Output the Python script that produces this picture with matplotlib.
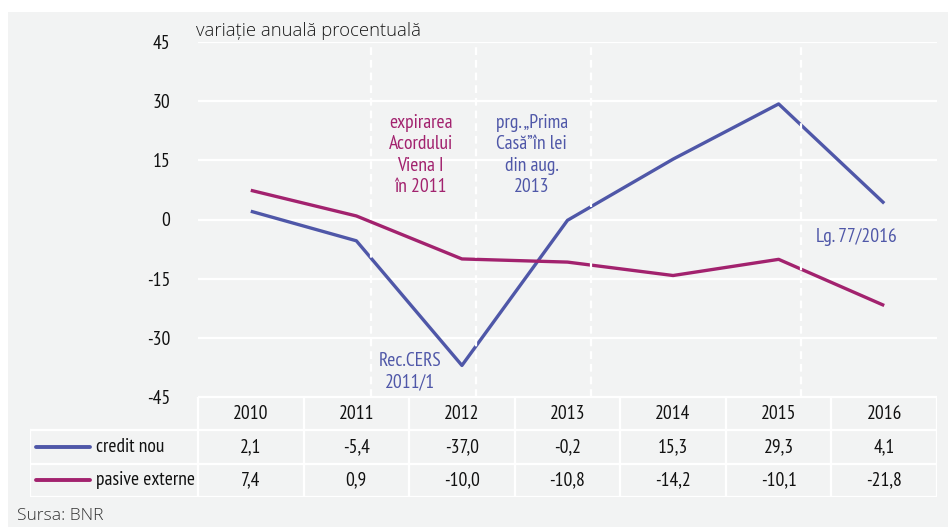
import matplotlib
matplotlib.use("Agg")
import matplotlib.pyplot as plt
from matplotlib import font_manager as fm
from matplotlib.patches import Rectangle

# ---- data ----
years = ["2010", "2011", "2012", "2013", "2014", "2015", "2016"]
credit_nou = [2.1, -5.4, -37.0, -0.2, 15.3, 29.3, 4.1]
pasive_externe = [7.4, 0.9, -10.0, -10.8, -14.2, -10.1, -21.8]
series_names = ["credit nou", "pasive externe"]
yticks = [45, 30, 15, 0, -15, -30, -45]
event_x = [1.14, 2.13, 3.22, 5.21]
ylabel_text = "variație anuală procentuală"
source_text = "Sursa: BNR"

BLUE = "#4f57a8"
MAG = "#a2226e"
BG = "#f2f3f3"

names = {f.name for f in fm.fontManager.ttflist}
NARROW = None
for cand in ["PT Sans Narrow", "Liberation Sans Narrow", "Roboto Condensed", "Archivo Narrow"]:
    if cand in names:
        NARROW = dict(family=cand)
        break
if NARROW is None:
    NARROW = dict(family="DejaVu Sans", stretch="condensed")
LIGHT = dict(family="Open Sans", weight="light") if "Open Sans" in names else dict(family="DejaVu Sans")

FS = 14
W, H = 948, 527
fig = plt.figure(figsize=(W / 100, H / 100), dpi=100, facecolor="white")
fig.patches.append(Rectangle((8 / W, 0), 1 - 8 / W, 1 - 12 / H, transform=fig.transFigure,
                             facecolor=BG, edgecolor="none", zorder=-10))

L, R, T, B = 198, 937, 42, 397
ax = fig.add_axes([L / W, 1 - B / H, (R - L) / W, (B - T) / H])
ax.set_facecolor("none")
for s in ax.spines.values():
    s.set_visible(False)
ax.set_xlim(-0.5, 6.5)
ax.set_ylim(-45, 45)
ax.set_xticks([])
ax.set_yticks(yticks)
ax.set_yticklabels([str(t) for t in yticks], fontsize=FS, color="#111111", **NARROW)
ax.tick_params(axis="y", length=0, pad=20)
for t in yticks:
    ax.axhline(t, color="white", lw=1.6, zorder=1)

x = list(range(len(years)))
ax.plot(x, credit_nou, color=BLUE, lw=2.4, zorder=3, solid_capstyle="butt")
ax.plot(x, pasive_externe, color=MAG, lw=2.4, zorder=3, solid_capstyle="butt")
for ex in event_x:
    ax.axvline(ex, color="white", lw=1.6, ls=(0, (3.5, 2.2)), zorder=4)

ax.text(1.61, 16.3, "expirarea\nAcordului\nViena I\nîn 2011", color=MAG, ha="center", va="center",
        fontsize=FS, linespacing=1.25, **NARROW)
ax.text(2.66, 16.3, "prg. „Prima\nCasă”în lei\ndin aug.\n2013", color=BLUE, ha="center", va="center",
        fontsize=FS, linespacing=1.25, **NARROW)
ax.text(1.51, -38.6, "Rec.CERS\n2011/1", color=BLUE, ha="center", va="center",
        fontsize=FS, linespacing=1.25, **NARROW)
ax.text(5.74, -4.4, "Lg. 77/2016", color=BLUE, ha="center", va="center",
        fontsize=FS, **NARROW)

fig.text(196 / W, 1 - 31 / H, ylabel_text, fontsize=13.3, ha="left", va="center", color="#1a1a1a", **LIGHT)
fig.text(17 / W, 1 - 516 / H, source_text, fontsize=12.5, ha="left", va="center", color="#333333", **LIGHT)

# ---- data table ----
TL, TT, TB = 30, 397, 497
tax = fig.add_axes([TL / W, 1 - TB / H, (R - TL) / W, (TB - TT) / H])
tax.set_facecolor("none")
tax.axis("off")
unit = (R - L) / 7.0
xl = -0.5 - (L - TL) / unit
tax.set_xlim(xl, 6.5)
tax.set_ylim(3, 0)
lw_t = 1.6
tax.plot([-0.5, 6.5], [0, 0], color="white", lw=lw_t)
for yy in (1, 2, 3):
    tax.plot([xl, 6.5], [yy, yy], color="white", lw=lw_t)
tax.plot([xl, xl], [1, 3], color="white", lw=lw_t)
for i in range(8):
    tax.plot([i - 0.5, i - 0.5], [0, 3], color="white", lw=lw_t)
for i, yr in enumerate(years):
    tax.text(i, 0.5, yr, ha="center", va="center", fontsize=FS, color="#111111", **NARROW)
    tax.text(i, 1.5, f"{credit_nou[i]:.1f}".replace(".", ","), ha="center", va="center",
             fontsize=FS, color="#111111", **NARROW)
    tax.text(i, 2.5, f"{pasive_externe[i]:.1f}".replace(".", ","), ha="center", va="center",
             fontsize=FS, color="#111111", **NARROW)
lx0 = xl + 6 / unit
lx1 = xl + 60 / unit
for r, (nm, col) in enumerate(zip(series_names, [BLUE, MAG])):
    tax.plot([lx0, lx1], [1.5 + r, 1.5 + r], color=col, lw=2.8, solid_capstyle="round")
    tax.text(xl + 66 / unit, 1.5 + r, nm, ha="left", va="center", fontsize=FS, color="#111111", **NARROW)

fig.savefig("out.png", dpi=100, facecolor="white")
